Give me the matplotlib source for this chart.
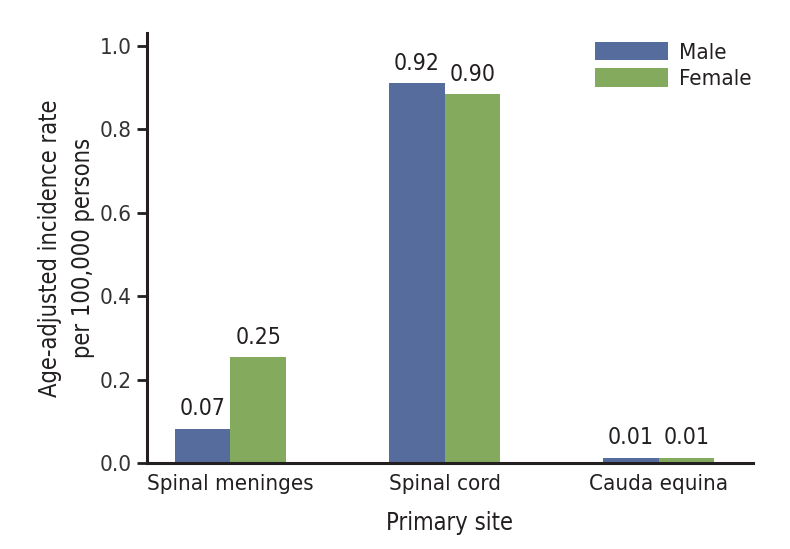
import matplotlib.pyplot as plt
import numpy as np

plt.rcParams['font.family'] = ['DejaVu Sans']
plt.rcParams['font.stretch'] = 'condensed'

sites = ['Spinal meninges', 'Spinal cord', 'Cauda equina']
male = [0.082, 0.910, 0.013]
female = [0.254, 0.884, 0.013]
male_labels = ['0.07', '0.92', '0.01']
female_labels = ['0.25', '0.90', '0.01']
yticks = [0.0, 0.2, 0.4, 0.6, 0.8, 1.0]

male_color = '#566C9C'
female_color = '#84AA5E'
text_color = '#231F20'

fig = plt.figure(figsize=(7.9, 5.49), dpi=100)
ax = fig.add_axes([0.186, 0.1566, 0.767, 0.783])

x = np.arange(len(sites))
w = 0.26
b1 = ax.bar(x - w / 2, male, w, color=male_color, label='Male')
b2 = ax.bar(x + w / 2, female, w, color=female_color, label='Female')

# value labels above each bar
for bars, labels in ((b1, male_labels), (b2, female_labels)):
  for bar, lab in zip(bars, labels):
    ax.annotate(lab, (bar.get_x() + bar.get_width() / 2, bar.get_height()),
                xytext=(0, 6), textcoords='offset points', ha='center', va='bottom',
                fontsize=16.5, color=text_color)

ax.set_xlim(-0.39, 2.44)
ax.set_ylim(0, 1.03)
ax.set_xticks(x)
ax.set_xticklabels(sites, fontsize=16, color=text_color)
ax.set_yticks(yticks)
ax.set_yticklabels(['%.1f' % v for v in yticks], fontsize=16, color='#333333')
ax.tick_params(axis='x', length=0, pad=8)
ax.tick_params(axis='y', length=7, width=2, direction='out', pad=4, color=text_color)

for s in ('top', 'right'):
  ax.spines[s].set_visible(False)
for s in ('left', 'bottom'):
  ax.spines[s].set_linewidth(2.2)
  ax.spines[s].set_color(text_color)

ax.set_ylabel('Age-adjusted incidence rate\nper 100,000 persons', fontsize=17,
              color=text_color, labelpad=3, linespacing=1.5)
ax.set_xlabel('Primary site', fontsize=17, color=text_color, labelpad=12)

ax.legend(loc='upper left', bbox_to_anchor=(0.706, 1.026), frameon=False, fontsize=16,
          handlelength=3.3, handleheight=0.9, handletextpad=0.5, labelspacing=0.25,
          labelcolor=text_color)

fig.savefig('out.png', dpi=100)
